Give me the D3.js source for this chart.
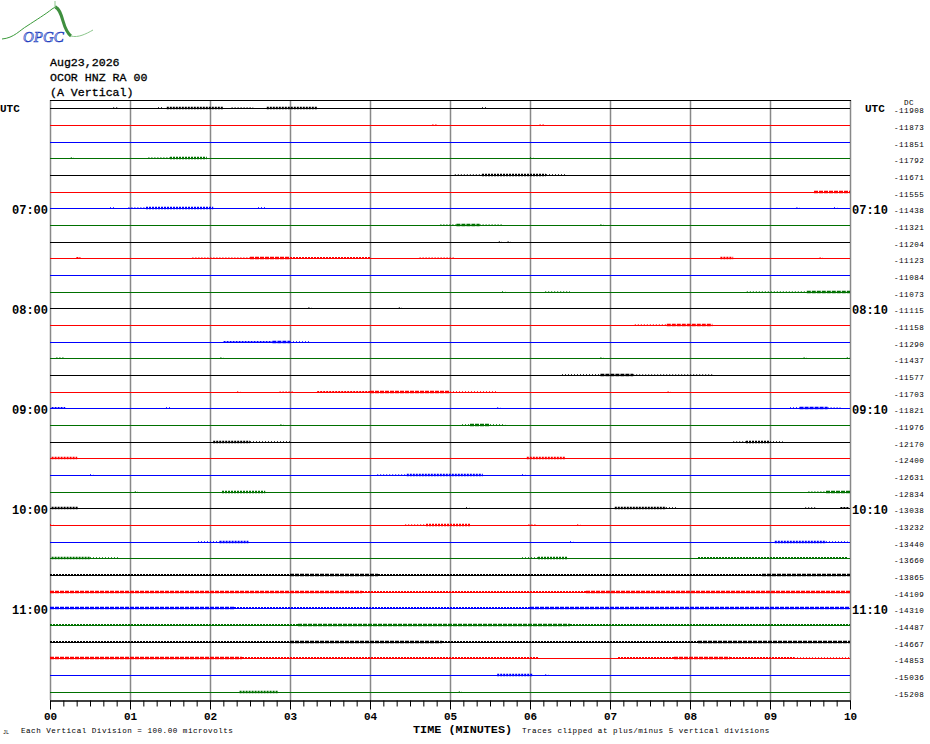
<!DOCTYPE html>
<html>
<head>
<meta charset="utf-8">
<script src="https://cdn.jsdelivr.net/npm/d3@7.9.0/dist/d3.min.js"></script>
<style>
  html, body { margin: 0; padding: 0; background: #fff; }
  svg { display: block; }
  text { font-family: "Liberation Mono", "DejaVu Sans Mono", monospace; }
</style>
</head>
<body>
<svg id="chart" width="930" height="744"></svg>
<script>
// helicorder: 36 traces of 10 minutes each, 06:00 -> 12:00 UTC
const titleLines = ['Aug23,2026', 'OCOR HNZ RA 00', '(A Vertical)'];
const traceColors = ['#000000', '#ff0000', '#0000ff', '#007000'];
const minuteLabels = ['00', '01', '02', '03', '04', '05', '06', '07', '08', '09', '10'];
const hourRows = [6, 12, 18, 24, 30];
const leftHours = ['07:00', '08:00', '09:00', '10:00', '11:00'];
const rightHours = ['07:10', '08:10', '09:10', '10:10', '11:10'];
const dcValues = [
  -11908, -11873, -11851, -11792, -11671, -11555, -11438, -11321, -11204,
  -11123, -11084, -11073, -11115, -11158, -11290, -11437, -11577, -11703,
  -11821, -11976, -12170, -12400, -12631, -12834, -13038, -13232, -13440,
  -13660, -13865, -14109, -14310, -14487, -14667, -14853, -15036, -15208
];

// noise bursts: [trace, start min, end min, amplitude in microvolts]
const bursts = [
  [0, 0.79, 0.84, 6], [0, 1.35, 1.4, 6], [0, 1.46, 2.16, 8], [0, 2.27, 2.54, 6], [0, 2.71, 3.34, 8], [0, 5.4, 5.45, 6],
  [1, 4.78, 4.83, 6], [1, 6.12, 6.17, 6],
  [3, 0.26, 0.3, 6], [3, 1.23, 1.5, 6], [3, 1.5, 1.96, 8], [3, 6.0, 6.04, 6],
  [4, 5.06, 5.4, 6], [4, 5.4, 6.2, 8], [4, 6.2, 6.44, 6],
  [5, 9.55, 10, 9],
  [6, 0.75, 0.8, 6], [6, 0.98, 1.2, 6], [6, 1.2, 2.04, 8], [6, 2.6, 2.71, 6], [6, 9.33, 9.37, 6], [6, 9.8, 9.84, 6],
  [7, 4.88, 5.08, 6], [7, 5.08, 5.37, 9], [7, 5.37, 5.65, 6], [7, 6.88, 6.92, 6],
  [8, 5.61, 5.65, 6], [8, 5.72, 5.76, 6],
  [9, 0.33, 0.38, 7], [9, 1.78, 2.5, 6], [9, 2.5, 3.0, 9], [9, 3.0, 4.0, 7], [9, 4.62, 5.06, 6], [9, 8.38, 8.54, 8], [9, 9.62, 9.66, 6],
  [11, 5.65, 5.69, 6], [11, 6.19, 6.5, 6], [11, 8.71, 9.46, 6], [11, 9.46, 10, 9],
  [12, 3.23, 3.27, 6], [12, 4.36, 4.4, 6],
  [13, 7.31, 7.71, 6], [13, 7.71, 8.28, 9],
  [14, 2.17, 2.78, 7], [14, 2.78, 3.0, 9], [14, 3.0, 3.25, 6],
  [15, 0.08, 0.17, 6], [15, 2.13, 2.17, 6], [15, 6.88, 6.92, 6], [15, 9.42, 9.46, 6], [15, 9.96, 10, 6],
  [16, 6.4, 6.88, 6], [16, 6.88, 7.29, 9], [16, 7.29, 8.28, 6],
  [17, 2.34, 2.38, 6], [17, 2.87, 3.04, 6], [17, 3.34, 4.0, 7], [17, 4.0, 5.0, 9], [17, 5.0, 5.6, 6], [17, 7.72, 7.76, 6],
  [18, 0.02, 0.19, 7], [18, 1.45, 1.5, 6], [18, 5.59, 5.63, 6], [18, 9.25, 9.37, 6], [18, 9.37, 9.72, 9], [18, 9.72, 9.88, 6],
  [19, 2.88, 2.92, 6], [19, 5.15, 5.25, 6], [19, 5.25, 5.5, 9], [19, 5.5, 5.69, 6],
  [20, 2.04, 2.5, 8], [20, 2.5, 3.02, 6], [20, 8.54, 8.7, 6], [20, 8.7, 9.0, 8], [20, 9.0, 9.16, 6],
  [21, 0.02, 0.34, 8], [21, 5.96, 6.44, 8],
  [22, 0.5, 0.54, 6], [22, 4.09, 4.46, 6], [22, 4.46, 5.41, 8], [22, 5.9, 5.94, 6],
  [23, 1.06, 1.1, 6], [23, 2.15, 2.69, 8], [23, 9.48, 9.7, 6], [23, 9.7, 10, 9],
  [24, 0.02, 0.35, 8], [24, 5.2, 5.24, 6], [24, 7.06, 7.7, 8], [24, 7.7, 7.85, 6], [24, 9.44, 9.58, 6], [24, 9.88, 9.98, 7],
  [25, 0.0, 0.04, 6], [25, 4.44, 4.7, 6], [25, 4.7, 5.25, 8], [25, 5.98, 6.09, 6], [25, 6.59, 6.63, 6],
  [26, 1.85, 2.12, 6], [26, 2.12, 2.48, 8], [26, 6.5, 6.54, 6], [26, 9.06, 9.7, 8], [26, 9.7, 9.97, 6],
  [27, 0.02, 0.5, 8], [27, 0.5, 0.87, 6], [27, 5.9, 6.1, 6], [27, 6.1, 6.47, 8], [27, 8.1, 9.97, 7],
  [28, 0.0, 3.0, 7], [28, 3.0, 4.1, 9], [28, 4.1, 8.9, 7], [28, 8.9, 10, 9],
  [29, 0.0, 3.9, 9], [29, 3.9, 6.7, 7], [29, 6.7, 10, 9],
  [30, 0.0, 2.3, 9], [30, 2.3, 6.0, 7], [30, 6.0, 10, 9],
  [31, 0.0, 3.1, 7], [31, 3.1, 6.5, 9], [31, 6.5, 10, 7],
  [32, 0.0, 3.0, 7], [32, 3.0, 4.9, 9], [32, 4.9, 8.1, 7], [32, 8.1, 10, 9],
  [33, 0.0, 2.4, 9], [33, 2.4, 6.1, 7], [33, 7.1, 7.8, 7], [33, 7.8, 8.5, 9], [33, 8.5, 9.3, 7], [33, 9.3, 10, 6],
  [34, 5.59, 6.03, 8], [34, 6.19, 6.23, 6],
  [35, 2.37, 2.85, 8], [35, 5.11, 5.15, 6]
];

const svg = d3.select('#chart');

const x = d3.scaleLinear().domain([0, 10]).range([50, 850]);
const y = d3.scaleBand().domain(d3.range(dcValues.length)).range([100, 700]);
const yc = (i) => Math.round(y(i) + y.bandwidth() / 2) + 0.5;
const amp = d3.scaleLinear().domain([0, 100]).range([0, y.bandwidth()]);

// logo
const logo = svg.append('g');
logo.append('path')
  .attr('d', 'M2,39 C14,38 20,30 27,26 C36,20 46,14 52,9 L57,6')
  .attr('fill', 'none').attr('stroke', '#3a9a3a').attr('stroke-width', 1);
logo.append('path')
  .attr('d', 'M55,7 C59,8 61,14 63,21 C65,28 67,33 71,36')
  .attr('fill', 'none').attr('stroke', '#3f8f3f').attr('stroke-width', 3);
logo.append('path')
  .attr('d', 'M71,36 C78,38 86,34 93,30')
  .attr('fill', 'none').attr('stroke', '#8cc68c').attr('stroke-width', 1);
logo.append('line').attr('x1', 55).attr('x2', 55).attr('y1', 1).attr('y2', 8)
  .attr('stroke', '#8cc68c');
logo.append('text')
  .attr('x', 23).attr('y', 42)
  .style('font-family', '"Liberation Serif", serif')
  .style('font-style', 'italic').style('font-size', '15px')
  .attr('fill', '#b8c8f0').attr('stroke', '#1f3fbf').attr('stroke-width', 0.6)
  .text('OPGC');

// title
svg.selectAll('.title').data(titleLines).join('text')
  .attr('class', 'title')
  .attr('x', 50).attr('y', (d, i) => 66 + i * 15)
  .style('font-size', '11.6px')
  .attr('stroke', '#000').attr('stroke-width', 0.3)
  .text((d) => d);

// vertical minute grid
svg.append('g').selectAll('line').data(d3.range(0, 11)).join('line')
  .attr('x1', (d) => x(d) + 0.5).attr('x2', (d) => x(d) + 0.5)
  .attr('y1', 100).attr('y2', 700)
  .attr('stroke', '#888').attr('stroke-width', 1.5);

// top border
svg.append('line')
  .attr('x1', x(0)).attr('x2', x(10) + 1).attr('y1', 100.5).attr('y2', 100.5)
  .attr('stroke', '#000');

// trace baselines
svg.append('g').selectAll('line').data(dcValues).join('line')
  .attr('x1', x(0)).attr('x2', x(10))
  .attr('y1', (d, i) => yc(i)).attr('y2', (d, i) => yc(i))
  .attr('stroke', (d, i) => traceColors[i % 4]).attr('stroke-width', 1);

// noise bursts
svg.append('g').selectAll('line').data(bursts).join('line')
  .attr('x1', (d) => x(d[1])).attr('x2', (d) => x(d[2]))
  .attr('y1', (d) => yc(d[0]) - 0.5).attr('y2', (d) => yc(d[0]) - 0.5)
  .attr('stroke', (d) => traceColors[d[0] % 4])
  .attr('stroke-width', (d) => amp(d[3]) * 1.7)
  .attr('stroke-dasharray', (d) => d[3] >= 9 ? '4 1' : d[3] >= 7 ? '2 1' : '1 2');

// time labels
const labelFont = (sel, size) => sel.style('font-size', size).style('font-weight', 'bold');
svg.append('text').attr('x', 0).attr('y', yc(0) + 3).call(labelFont, '11px').text('UTC');
svg.append('text').attr('x', 865).attr('y', yc(0) + 3).call(labelFont, '11px').text('UTC');
svg.append('g').selectAll('text').data(leftHours).join('text')
  .attr('x', 48).attr('y', (d, i) => yc(hourRows[i]) + 5)
  .attr('text-anchor', 'end').call(labelFont, '12px').text((d) => d);
svg.append('g').selectAll('text').data(rightHours).join('text')
  .attr('x', 852).attr('y', (d, i) => yc(hourRows[i]) + 5)
  .call(labelFont, '12px').text((d) => d);

// DC offsets
const small = (sel) => sel.style('font-size', '7.6px').style('letter-spacing', '0.5px');
svg.append('text').attr('x', 904).attr('y', 105).call(small).text('DC');
svg.append('g').selectAll('text').data(dcValues).join('text')
  .attr('x', 894).attr('y', (d, i) => yc(i) + 4)
  .call(small).text((d) => d);

// time axis: minutes with 10 s minor ticks
const axisG = svg.append('g').attr('transform', 'translate(0,700.5)');
axisG.call(d3.axisBottom(x).tickValues(d3.range(0, 10.001, 1 / 6)).tickSize(6).tickSizeOuter(0).tickFormat(''));
axisG.append('g').call(d3.axisBottom(x).tickValues(d3.range(0, 11)).tickSize(9).tickSizeOuter(0)
  .tickFormat((d) => minuteLabels[d]));
axisG.selectAll('.domain').attr('stroke', '#000').attr('stroke-width', 1.2);
axisG.selectAll('line').attr('stroke', '#000');
axisG.selectAll('text')
  .attr('y', 12)
  .style('font-family', '"Liberation Mono", monospace')
  .style('font-size', '11px').style('font-weight', 'bold').attr('fill', '#000');

// footer
svg.append('text').attr('x', 413).attr('y', 733).call(labelFont, '11.8px').text('TIME (MINUTES)');
svg.append('text').attr('x', 21).attr('y', 733).call(small).text('Each Vertical Division =  100.00 microvolts');
svg.append('text').attr('x', 522).attr('y', 733).call(small).text('Traces clipped at plus/minus 5 vertical divisions');
svg.append('text').attr('x', 3).attr('y', 734).style('font-size', '5px').text('JL');
</script>
</body>
</html>
